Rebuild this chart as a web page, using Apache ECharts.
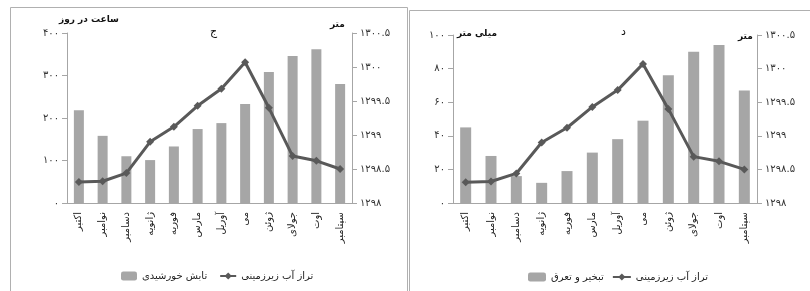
<!DOCTYPE html>
<html>
<head>
<meta charset="utf-8">
<script src="https://cdn.jsdelivr.net/npm/echarts@6/dist/echarts.min.js"></script>
<style>
  html, body { margin: 0; padding: 0; background: #fff; }
  #main { width: 810px; height: 291px; }
</style>
</head>
<body>
<div id="main"></div>
<script>
// ماه ها
const months = ['اکتبر', 'نوامبر', 'دسامبر', 'ژانویه', 'فوریه', 'مارس', 'آوریل', 'می', 'ژوئن', 'جولای', 'اوت', 'سپتامبر'];
// تابش خورشیدی (ساعت در روز)
const sunshine = [218, 158, 110, 101, 133, 174, 188, 233, 308, 346, 362, 280];
// تبخیر و تعرق (میلی متر)
const evapo = [45, 28, 16, 12, 19, 30, 38, 49, 76, 90, 94, 67];
// تراز آب زیرزمینی (متر)
const gwLevel = [1298.31, 1298.32, 1298.44, 1298.9, 1299.12, 1299.43, 1299.68, 1300.07, 1299.4, 1298.69, 1298.62, 1298.5];

const sunTicks = [0, 400, 100];
const evapoTicks = [0, 100, 20];
const levelTicks = [1298, 1300.5, 0.5];

const FONT = 'DejaVu Sans';
const AXIS_COLOR = '#a6a6a6';
const BAR_COLOR = '#a6a6a6';
const LINE_COLOR = '#595959';

function fa(v) {
    return String(v).replace(/[0-9]/g, d => '۰۱۲۳۴۵۶۷۸۹'[d]);
}

function yAxis(grid, ticks, pos) {
    return {
        type: 'value', gridIndex: grid, position: pos,
        min: ticks[0], max: ticks[1], interval: ticks[2],
        splitLine: { show: false },
        axisLine: { show: true, lineStyle: { color: AXIS_COLOR } },
        axisTick: { show: true, length: 5, lineStyle: { color: AXIS_COLOR } },
        axisLabel: { formatter: fa, fontFamily: FONT, fontSize: 10, color: '#333', margin: 8 }
    };
}

function xAxis(grid) {
    return {
        type: 'category', gridIndex: grid, data: months,
        axisLine: { lineStyle: { color: AXIS_COLOR } },
        axisTick: { length: 5, lineStyle: { color: AXIS_COLOR } },
        axisLabel: { rotate: 90, interval: 0, fontFamily: FONT, fontSize: 10, color: '#222', margin: 9 }
    };
}

function lineSeries(xi, yi) {
    return {
        name: 'تراز آب زیرزمینی', type: 'line', xAxisIndex: xi, yAxisIndex: yi,
        data: gwLevel, symbol: 'diamond', symbolSize: 8,
        lineStyle: { color: LINE_COLOR, width: 3 },
        itemStyle: { color: LINE_COLOR }
    };
}

function txt(x, y, s, size, bold) {
    return { type: 'text', left: x, top: y,
        style: { text: s, font: (bold ? 'bold ' : '') + size + 'px "' + FONT + '"', fill: '#111' } };
}

let myChart = echarts.init(document.getElementById('main'));
let option = {
    backgroundColor: '#fff',
    animation: false,
    grid: [
        { left: 67, right: 458, top: 33, bottom: 88 },
        { left: 453, right: 53, top: 35, bottom: 88 }
    ],
    xAxis: [xAxis(0), xAxis(1)],
    yAxis: [
        yAxis(0, sunTicks, 'left'),
        yAxis(0, levelTicks, 'right'),
        yAxis(1, evapoTicks, 'left'),
        yAxis(1, levelTicks, 'right')
    ],
    legend: [
        { left: 116, top: 266, itemWidth: 16, itemHeight: 9, itemGap: 12,
          data: ['تابش خورشیدی', 'تراز آب زیرزمینی'],
          textStyle: { fontFamily: FONT, fontSize: 10, color: '#222' } },
        { left: 523, top: 267, itemWidth: 18, itemHeight: 9, itemGap: 8,
          data: ['تبخیر و تعرق', 'تراز آب زیرزمینی'],
          textStyle: { fontFamily: FONT, fontSize: 10, color: '#222' } }
    ],
    graphic: [
        { type: 'rect', shape: { x: 10.5, y: 7.5, width: 397, height: 300 },
          style: { fill: 'none', stroke: '#b0b0b0', lineWidth: 1 } },
        { type: 'rect', shape: { x: 409.5, y: 10.5, width: 410, height: 300 },
          style: { fill: 'none', stroke: '#b0b0b0', lineWidth: 1 } },
        txt(59, 15, 'ساعت در روز', 9, true),
        txt(210, 27, 'ج', 11, false),
        txt(330, 20, 'متر', 9, true),
        txt(457, 29, 'میلی متر', 9, true),
        txt(621, 27, 'د', 11, false),
        txt(738, 32, 'متر', 9, true)
    ],
    series: [
        { name: 'تابش خورشیدی', type: 'bar', xAxisIndex: 0, yAxisIndex: 0,
          data: sunshine, barWidth: 10, itemStyle: { color: BAR_COLOR } },
        lineSeries(0, 1),
        { name: 'تبخیر و تعرق', type: 'bar', xAxisIndex: 1, yAxisIndex: 2,
          data: evapo, barWidth: 11, itemStyle: { color: BAR_COLOR } },
        lineSeries(1, 3)
    ]
};
myChart.setOption(option);
</script>
</body>
</html>
